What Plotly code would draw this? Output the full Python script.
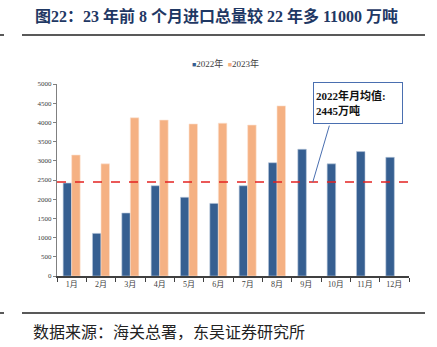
import plotly.graph_objects as go

months = ["1月", "2月", "3月", "4月", "5月", "6月", "7月", "8月", "9月", "10月", "11月", "12月"]
v2022 = [2420, 1110, 1640, 2350, 2050, 1890, 2350, 2950, 3300, 2920, 3240, 3090]
v2023 = [3150, 2920, 4120, 4060, 3960, 3980, 3930, 4430, None, None, None, None]
avg2022 = 2445
yticks = list(range(0, 5001, 500))
series_names = ["2022年", "2023年"]
colors = ["#365F91", "#F5B183"]

title = "图22：23 年前 8 个月进口总量较 22 年多 11000 万吨"
source = "数据来源：海关总署，东吴证券研究所"
box_text = "<b>2022年月均值:</b><br><b>2445万吨</b>"

W, H = 437, 347
L, R, T, B = 57, 28, 84, 71
PW, PH = W - L - R, H - T - B

def px_x(px):
    return (px - L) / PW

def px_y(py):
    return 1 + (T - py) / PH

fig = go.Figure()
fig.add_trace(go.Bar(name=series_names[0], x=months, y=v2022,
                     marker=dict(color=colors[0], line=dict(color="#B8C8DC", width=0.6))))
fig.add_trace(go.Bar(name=series_names[1], x=months, y=v2023,
                     marker=dict(color=colors[1], line=dict(color="#FCE3D2", width=0.6))))

fig.add_shape(type="line", xref="paper", yref="y", x0=0, x1=1, y0=avg2022, y1=avg2022,
              line=dict(color="#E32322", width=1.5, dash="dash"))

serif = "Liberation Serif, Times New Roman, Noto Sans CJK SC, serif"

fig.update_layout(
    width=W, height=H,
    margin=dict(l=L, r=R, t=T, b=B),
    paper_bgcolor="white", plot_bgcolor="white",
    barmode="group", bargap=0.42, bargroupgap=0.0,
    showlegend=False,
    font=dict(family=serif, color="#404040"),
)
fig.update_xaxes(showline=True, linecolor="#404040", linewidth=1.5, ticks="outside", tickson="boundaries",
                 ticklen=4, tickcolor="#404040", tickfont=dict(size=8, family=serif, color="#404040"),
                 showgrid=False)
fig.update_yaxes(range=[0, 5000], tickvals=yticks, showline=True, linecolor="#808080", linewidth=1,
                 ticks="outside", ticklen=3, tickcolor="#808080", tickfont=dict(size=7, family=serif, color="#404040"),
                 showgrid=False, zeroline=False)

# legend drawn as text
legend_text = "  ".join(
    f"<span style='color:{c};font-size:7px'>■</span>{n}" for n, c in zip(series_names, colors))
fig.add_annotation(x=px_x(190), y=px_y(64), xref="paper", yref="paper", text=legend_text,
                   showarrow=False, xanchor="left", yanchor="middle",
                   font=dict(family=serif, size=9, color="#404040"))

# arrow connector from box to average line
fig.add_annotation(x=8.22, y=avg2022, xref="x", yref="y", text="", showarrow=True, arrowhead=0,
                   arrowwidth=1, arrowcolor="#4A6FB0", ax=17, ay=-58, axref="pixel", ayref="pixel")
# text box
fig.add_annotation(x=px_x(357.5), y=px_y(103), xref="paper", yref="paper",
                   text=box_text, showarrow=False, align="left", xanchor="center", yanchor="middle",
                   font=dict(family=serif, size=11, color="#111111"),
                   bordercolor="#4A6FB0", borderwidth=1, bgcolor="white", width=84, height=36, borderpad=2)

# title
fig.add_annotation(x=px_x(33), y=px_y(16), xref="paper", yref="paper",
                   text="<b>" + title + "</b>", showarrow=False, xanchor="left", yanchor="middle",
                   font=dict(family=serif, size=16, color="#1F3864"))
# source
fig.add_annotation(x=px_x(31), y=px_y(331), xref="paper", yref="paper",
                   text=source, showarrow=False, xanchor="left", yanchor="middle",
                   font=dict(family="Noto Sans CJK SC", size=16, color="#222222"))

# header/footer rules
def hline(py, x0, x1, w):
    yp = px_y(py)
    fig.add_shape(type="line", xref="paper", yref="paper",
                  x0=px_x(x0), x1=px_x(x1), y0=yp, y1=yp,
                  line=dict(color="#222222", width=w))

hline(35, 22, 425, 1.5)
hline(35, 0, 4, 1.5)
hline(313, 22, 425, 1.5)
hline(313, 0, 4, 1.5)

fig.write_html("out.html")
